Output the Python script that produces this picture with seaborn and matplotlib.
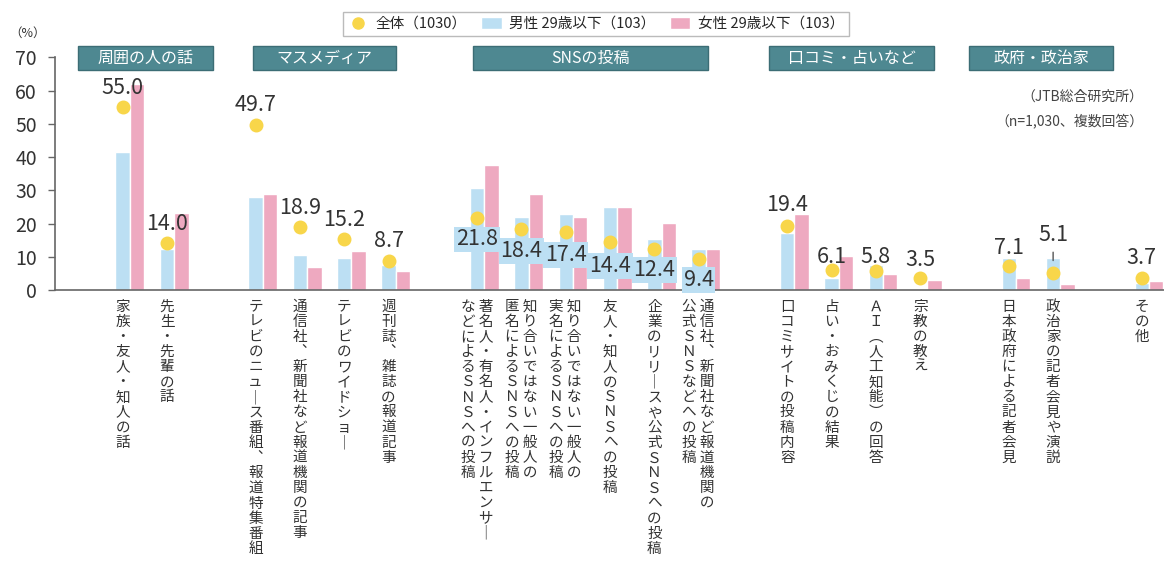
import pandas as pd
import matplotlib.pyplot as plt
import seaborn as sns
from matplotlib.lines import Line2D
from matplotlib.patches import Patch, Rectangle

sns.set_style('white')
plt.rcParams['font.family'] = ['Noto Sans CJK JP', 'DejaVu Sans']

# 項目（"\n" で縦書きの列を分ける）
items = [
    '家族・友人・知人の話',
    '先生・先輩の話',
    'テレビのニュース番組、報道特集番組',
    '通信社、新聞社など報道機関の記事',
    'テレビのワイドショー',
    '週刊誌、雑誌の報道記事',
    '著名人・有名人・インフルエンサー\nなどによるSNSへの投稿',
    '知り合いではない一般人の\n匿名によるSNSへの投稿',
    '知り合いではない一般人の\n実名によるSNSへの投稿',
    '友人・知人のSNSへの投稿',
    '企業のリリースや公式SNSへの投稿',
    '通信社、新聞社など報道機関の\n公式SNSなどへの投稿',
    '口コミサイトの投稿内容',
    '占い・おみくじの結果',
    'AI（人工知能）の回答',
    '宗教の教え',
    '日本政府による記者会見',
    '政治家の記者会見や演説',
    'その他',
]
groups = ['周囲の人の話', 'マスメディア', 'SNSの投稿', '口コミ・占いなど', '政府・政治家', None]
group_sizes = [2, 4, 6, 4, 2, 1]

overall = [55.0, 14.0, 49.7, 18.9, 15.2, 8.7, 21.8, 18.4, 17.4, 14.4, 12.4, 9.4,
           19.4, 6.1, 5.8, 3.5, 7.1, 5.1, 3.7]
male = [41.5, 12.4, 28.0, 10.5, 9.5, 7.5, 30.7, 22.0, 23.0, 25.0, 15.2, 12.3,
        17.2, 3.7, 7.5, 0.0, 9.5, 9.5, 2.2]
female = [62.0, 23.3, 29.0, 6.8, 11.7, 5.7, 37.5, 29.0, 22.0, 25.0, 20.2, 12.3,
          23.0, 10.3, 4.7, 3.0, 3.7, 1.7, 2.8]

lab_all = '全体（1030）'
lab_m = '男性 29歳以下（103）'
lab_f = '女性 29歳以下（103）'

c_all = '#F8D64A'
c_m = '#BCDFF3'
c_f = '#EEA9C0'
c_head = '#4E8891'
c_text = '#333333'

# ラベルの位置調整（値からのずれ）と見出しの範囲
label_dy = [5.9, 5.9, 6.1, 5.8, 5.8, 5.9, -6.6, -6.7, -6.9, -7.2, -6.4, -6.4,
            6.1, 3.8, 4.1, 5.5, 5.4, 11.4, 5.8]
head_span = [(-1.17, 1.87), (2.78, 6.0), (7.74, 13.05), (14.43, 18.15), (18.94, 22.19)]

# グループの間に空き枠を入れる
slots = []
k = 0
for g, n in enumerate(group_sizes):
    if g:
        slots.append(f'_gap{g}')
    slots.extend(items[k:k + n])
    k += n
pos = {name: i for i, name in enumerate(slots)}

VERT = {'、': '︑', 'ー': '｜', '（': '︵', '）': '︶',
        'S': 'Ｓ', 'N': 'Ｎ', 'A': 'Ａ', 'I': 'Ｉ'}


def tategaki(label):
    cols = [[VERT.get(c, c) for c in col] for col in label.split('\n')]
    n = max(len(c) for c in cols)
    cols = [c + ['　'] * (n - len(c)) for c in cols]
    # 右の列から読む
    return '\n'.join(' '.join(col[i] for col in reversed(cols)) for i in range(n))


bars = pd.DataFrame({
    'item': items * 2,
    'value': male + female,
    'series': [lab_m] * len(items) + [lab_f] * len(items),
})
dots = pd.DataFrame({'item': items, 'value': overall, 'series': lab_all})

fig = plt.figure(figsize=(11.64, 5.73), dpi=100)
ax = fig.add_axes([55 / 1164, 283 / 573, 1 - 55 / 1164, 232.7 / 573])

sns.barplot(data=bars, x='item', y='value', hue='series', order=slots,
            hue_order=[lab_m, lab_f], palette=[c_m, c_f], width=0.65, gap=0,
            saturation=1, errorbar=None, legend=False, ax=ax, zorder=2)
sns.pointplot(data=dots, x='item', y='value', hue='series', order=slots,
              hue_order=[lab_all, '_pad'], palette=[c_all, c_all], dodge=0.325,
              linestyle='none', markers='o', markersize=8, errorbar=None,
              legend=False, ax=ax, zorder=3)

dx = -0.1625  # 男性の棒の中心
fs_val = 15.5
for name, v, dy in zip(items, overall, label_dy):
    x = pos[name] + dx
    if dy < 0:
        ax.text(x, v + dy, f'{v:.1f}', ha='center', va='center', fontsize=fs_val,
                color=c_text, zorder=4,
                bbox=dict(boxstyle='square,pad=0.08', fc=c_m, ec='none'))
    elif dy > 10:
        ax.annotate(f'{v:.1f}', xy=(x, v), xytext=(x, v + dy), ha='center',
                    va='center', fontsize=fs_val, color=c_text, zorder=4,
                    arrowprops=dict(arrowstyle='-', color='#555555', lw=1,
                                    shrinkA=2, shrinkB=9))
    else:
        ax.text(x, v + dy, f'{v:.1f}', ha='center', va='center', fontsize=fs_val,
                color=c_text, zorder=4)

# グループ見出し
for name, (x0, x1) in zip(groups, head_span):
    ax.add_patch(Rectangle((x0, 66.1), x1 - x0, 7.2, fc=c_head, ec='#3C6D75',
                           lw=1, clip_on=False, zorder=5))
    ax.text((x0 + x1) / 2, 69.7, name, ha='center', va='center', color='white',
            fontsize=11.5, zorder=6, clip_on=False)

ax.set_xlim(-1.69, 23.34)
ax.set_ylim(0, 70)
ax.set_yticks(range(0, 71, 10))
ax.set_xticks([pos[n] + dx for n in items], [tategaki(n) for n in items],
              fontsize=10.5, color=c_text, linespacing=1.1)
ax.tick_params(axis='x', length=0, pad=7)
ax.tick_params(axis='y', length=5, width=1, color='#666666', labelsize=14,
               labelcolor=c_text, pad=8, direction='out', left=True)
ax.set_xlabel('')
ax.set_ylabel('')
sns.despine(ax=ax)
for s in ['left', 'bottom']:
    ax.spines[s].set_color('#666666')
    ax.spines[s].set_linewidth(1.2)

fig.text(0.008, 0.942, '（%）', fontsize=9, color=c_text, ha='left', va='center')
fig.text(0.982, 0.831, '（JTB総合研究所）', fontsize=10, color='#444444',
         ha='right', va='center')
fig.text(0.982, 0.787, '（n=1,030、複数回答）', fontsize=10, color='#444444',
         ha='right', va='center')

handles = [Line2D([], [], marker='o', ls='none', color=c_all, markersize=8),
           Patch(fc=c_m), Patch(fc=c_f)]
fig.legend(handles, [lab_all, lab_m, lab_f], loc='upper center',
           bbox_to_anchor=(0.512, 0.992), ncol=3, fontsize=10.5, frameon=True,
           fancybox=False, edgecolor='#AAAAAA', handlelength=1.4,
           handleheight=0.9, columnspacing=1.0, handletextpad=0.5,
           borderpad=0.35)

fig.savefig('out.png', dpi=100)
